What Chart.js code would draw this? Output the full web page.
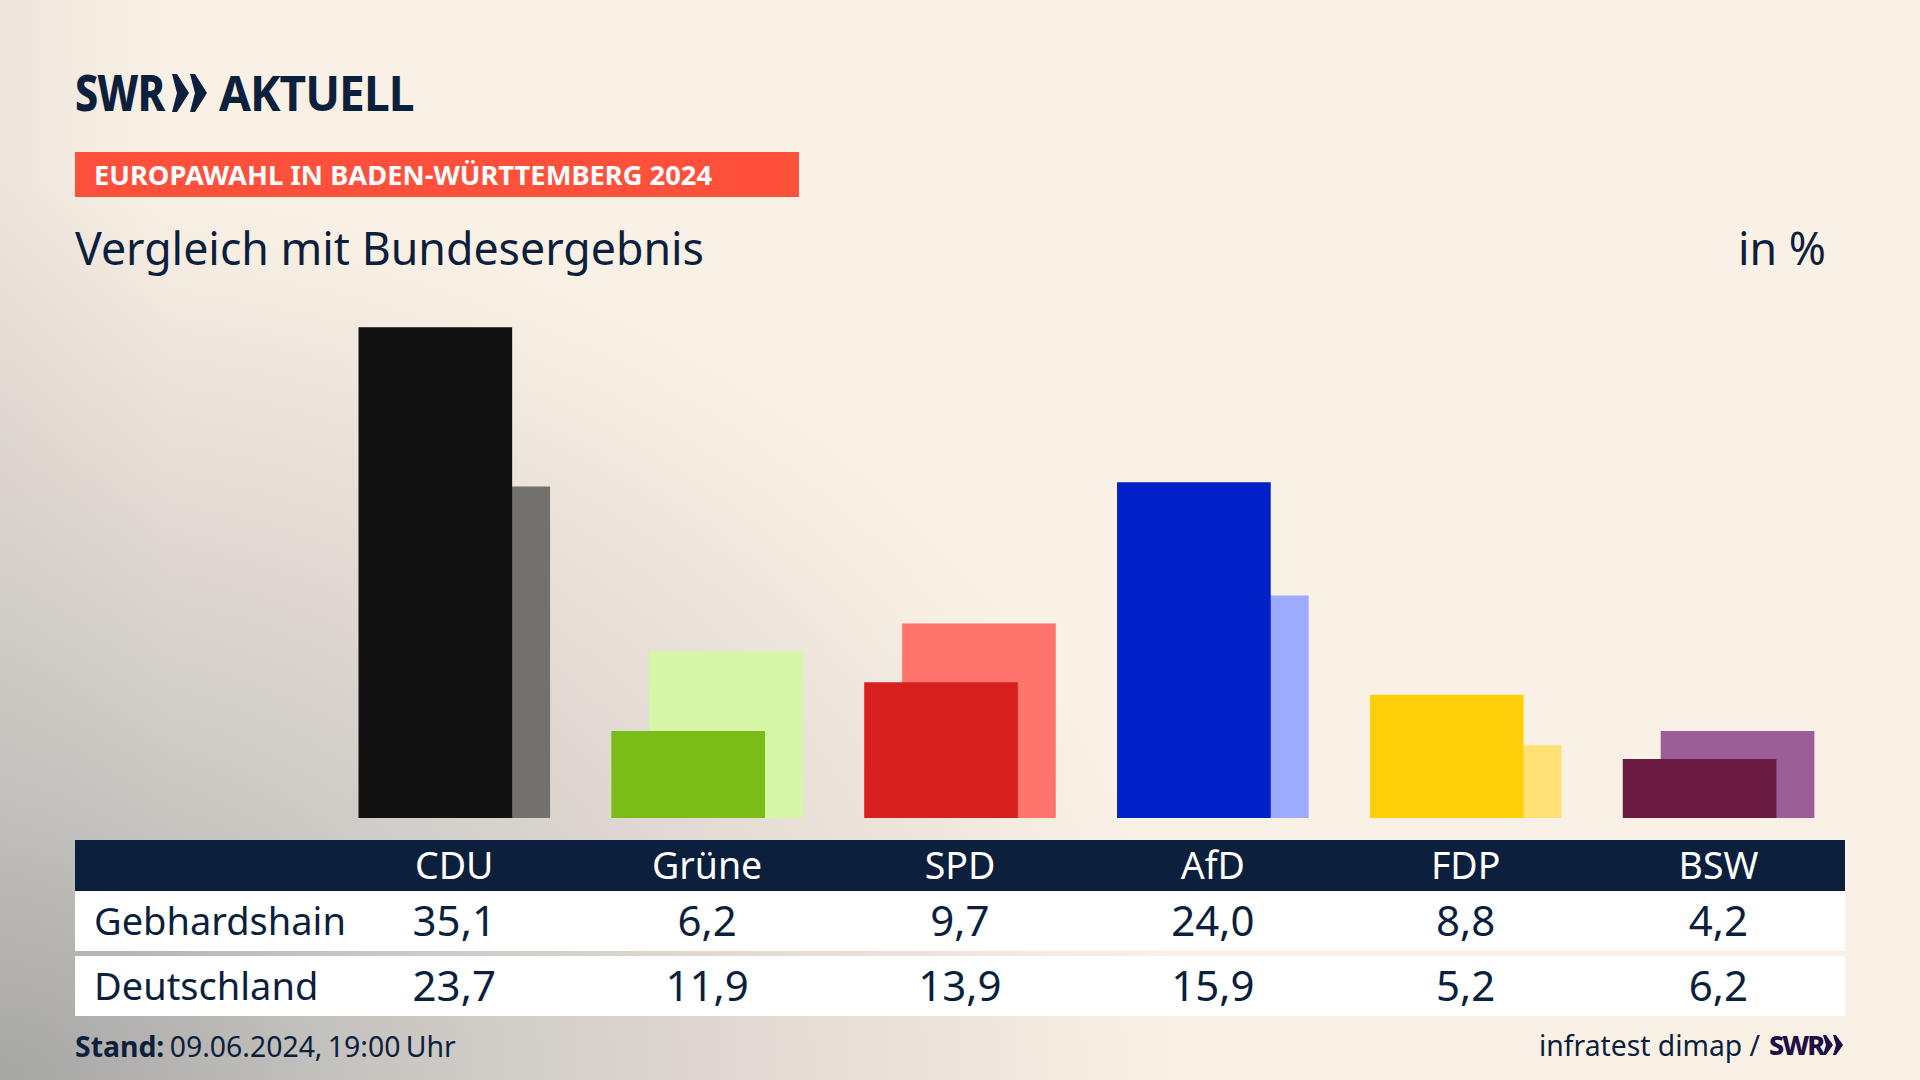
<!DOCTYPE html>
<html lang="de">
<head>
<meta charset="utf-8">
<title>Vergleich mit Bundesergebnis</title>
<script src="https://cdn.jsdelivr.net/npm/chart.js@4"></script>
<style>
  html, body { margin: 0; padding: 0; }
  body {
    width: 1920px; height: 1080px; overflow: hidden; position: relative;
    font-family: "Noto Sans", sans-serif; color: #0c1f3d;
    background:
      linear-gradient(to right, rgba(170,170,168,.16), rgba(170,170,168,0) 170px),
      radial-gradient(ellipse 1180px 900px at 0 1080px, #a6a6a5 0%, #c9c6c2 33%, #e2dbd3 65%, #faf1e6 100%) #faf1e6;
  }
  .abs { position: absolute; white-space: nowrap; }
  #logo { left: 75px; top: 62px; font-size: 49px; font-weight: 800; line-height: 60px; letter-spacing: -1px; transform: scaleX(.84); transform-origin: left; }
  #logo2 { left: 219px; top: 62px; font-size: 49px; font-weight: 700; line-height: 60px; letter-spacing: -1px; transform: scaleX(.94); transform-origin: left; }
  #band { left: 75px; top: 152px; width: 724px; height: 45px; background: #ff503c; color: #fff;
          font-size: 27.3px; font-weight: 700; line-height: 45px; text-indent: 19px; }
  #sub { left: 75px; top: 218px; font-size: 44.7px; line-height: 60px; }
  #unit { right: 94px; top: 218px; font-size: 44.7px; line-height: 60px; }
  #wrap { position: absolute; left: 75px; top: 315px; width: 1770px; height: 503px; }
  .row { position: absolute; left: 75px; width: 1770px; display: flex; }
  .row div { width: 252.857px; text-align: center; flex: none; }
  .row div:first-child { text-align: left; text-indent: 19px; font-size: 38px; }
  #head { top: 840px; height: 51px; line-height: 50px; background: #0c1f3d; color: #fff; font-size: 37.5px; }
  #r1 { top: 891px; height: 60px; line-height: 58px; background: #fff; font-size: 42px; }
  #r2 { top: 956px; height: 60px; line-height: 58px; background: #fff; font-size: 42px; }
  #stand { left: 75px; top: 1028px; font-size: 28.4px; line-height: 36px; word-spacing: -2px; }
  #quelle { left: 1539px; top: 1027px; font-size: 28.3px; line-height: 36px; }
  #swr2 { left: 1769px; top: 1027px; font-size: 27px; font-weight: 800; line-height: 36px; color: #1f0f45; letter-spacing: -2px; }
</style>
</head>
<body>
<div class="abs" id="logo">SWR</div>
<svg class="abs" style="left:172px;top:74px" width="36" height="38" viewBox="0 0 36 38">
  <polygon points="0,0 5,0 17,19 5,38 0,38 5,19" fill="#0c1f3d"/>
  <polygon points="18,0 23,0 35,19 23,38 18,38 23,19" fill="#0c1f3d"/>
</svg>
<div class="abs" id="logo2">AKTUELL</div>
<div class="abs" id="band">EUROPAWAHL IN BADEN-WÜRTTEMBERG 2024</div>
<div class="abs" id="sub">Vergleich mit Bundesergebnis</div>
<div class="abs" id="unit">in %</div>
<div id="wrap"><canvas id="chart" width="1770" height="503"></canvas></div>
<div class="row" id="head"></div>
<div class="row" id="r1"></div>
<div class="row" id="r2"></div>
<div class="abs" id="stand"><b>Stand:</b> 09.06.2024, 19:00 Uhr</div>
<div class="abs" id="quelle">infratest dimap /</div>
<div class="abs" id="swr2">SWR</div>
<svg class="abs" style="left:1823px;top:1035px" width="21" height="20" viewBox="0 0 21 20">
  <polygon points="0,0 3,0 10,10 3,20 0,20 3,10" fill="#1f0f45"/>
  <polygon points="10,0 13,0 20,10 13,20 10,20 13,10" fill="#1f0f45"/>
</svg>

<script>
var parteien = ['CDU', 'Grüne', 'SPD', 'AfD', 'FDP', 'BSW'];
var gebhardshain = [35.1, 6.2, 9.7, 24.0, 8.8, 4.2];
var deutschland = [23.7, 11.9, 13.9, 15.9, 5.2, 6.2];
var farbenDunkel = ['#121212', '#7abd18', '#d81f1f', '#0021c7', '#ffcf0a', '#6a1a40'];
var farbenHell = ['#72716e', '#d8f6a8', '#ff756d', '#9dabff', '#ffe175', '#9a5f96'];

function komma(v) {
    return v.toFixed(1).replace('.', ',');
}

// Tabelle unter dem Diagramm
function zeile(id, titel, werte) {
    var html = '<div>' + titel + '</div>';
    werte.forEach(function (w) { html += '<div>' + w + '</div>'; });
    document.getElementById(id).innerHTML = html;
}
zeile('head', '', parteien);
zeile('r1', 'Gebhardshain', gebhardshain.map(komma));
zeile('r2', 'Deutschland', deutschland.map(komma));

// Balken sind versetzt: lineare x-Achse, Position = Index der Partei +/- Versatz
var versatz = 0.075;
function punkte(werte, dx) {
    return werte.map(function (w, i) { return { x: i + dx, y: w }; });
}

new Chart(document.getElementById('chart'), {
    type: 'bar',
    data: {
        datasets: [
            {
                label: 'Gebhardshain',
                data: punkte(gebhardshain, -versatz),
                backgroundColor: farbenDunkel,
                barThickness: 153,
                grouped: false
            },
            {
                label: 'Deutschland',
                data: punkte(deutschland, versatz),
                backgroundColor: farbenHell,
                barThickness: 153,
                grouped: false
            }
        ]
    },
    options: {
        responsive: false,
        animation: false,
        layout: { padding: 0 },
        plugins: { legend: { display: false }, tooltip: { enabled: false } },
        scales: {
            x: { type: 'linear', min: -1.5, max: 5.5, offset: false, display: false },
            y: { min: 0, max: 36, display: false }
        }
    }
});
</script>
</body>
</html>
